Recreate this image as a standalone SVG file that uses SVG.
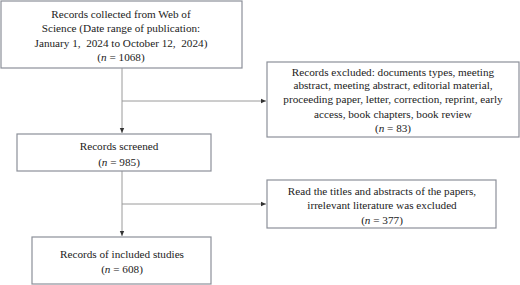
<svg xmlns="http://www.w3.org/2000/svg" width="520" height="285" viewBox="0 0 520 285">
<style>
.box{fill:#fff;stroke:#8c9099;stroke-width:1.2}
.t{font-family:"Liberation Serif",serif;font-size:11.2px;fill:#222;text-anchor:middle}
.c{fill:none;stroke:#9a9a9a;stroke-width:1}
</style>
<defs>
<marker id="ah" markerWidth="6" markerHeight="6" refX="5" refY="3" orient="auto" markerUnits="userSpaceOnUse">
<path d="M0,0.8 L5,3 L0,5.2 Z" fill="#333"/>
</marker>
</defs>
<rect width="520" height="285" fill="#fff"/>
<g id="connectors">
<line class="c" x1="122" y1="68" x2="122" y2="133" marker-end="url(#ah)"/>
<line class="c" x1="122" y1="101" x2="266" y2="101" marker-end="url(#ah)"/>
<line class="c" x1="122" y1="171" x2="122" y2="236" marker-end="url(#ah)"/>
<line class="c" x1="122" y1="204" x2="266" y2="204" marker-end="url(#ah)"/>
</g>
<g id="n1">
<rect class="box" x="1" y="1" width="241" height="67"/>
<text class="t" x="121" y="18">Records collected from Web of</text>
<text class="t" x="121" y="32">Science (Date range of publication:</text>
<text class="t" x="121" y="47">January 1,&#160; 2024 to October 12,&#160; 2024)</text>
<text class="t" x="121" y="61">(<tspan font-style="italic">n</tspan> = 1068)</text>
</g>
<g id="n2">
<rect class="box" x="267" y="62" width="252" height="75"/>
<text class="t" x="393" y="76">Records excluded: documents types, meeting</text>
<text class="t" x="393" y="89">abstract, meeting abstract, editorial material,</text>
<text class="t" x="393" y="103">proceeding paper, letter, correction, reprint, early</text>
<text class="t" x="393" y="118">access, book chapters, book review</text>
<text class="t" x="393" y="132">(<tspan font-style="italic">n</tspan> = 83)</text>
</g>
<g id="n3">
<rect class="box" x="17" y="134" width="194" height="37"/>
<text class="t" x="119" y="150">Records screened</text>
<text class="t" x="119" y="166">(<tspan font-style="italic">n</tspan> = 985)</text>
</g>
<g id="n4">
<rect class="box" x="267" y="180" width="229" height="48"/>
<text class="t" x="382" y="195">Read the titles and abstracts of the papers,</text>
<text class="t" x="382" y="209">irrelevant literature was excluded</text>
<text class="t" x="382" y="224">(<tspan font-style="italic">n</tspan> = 377)</text>
</g>
<g id="n5">
<rect class="box" x="32" y="237" width="179" height="47"/>
<text class="t" x="122" y="258">Records of included studies</text>
<text class="t" x="122" y="273">(<tspan font-style="italic">n</tspan> = 608)</text>
</g>
</svg>
